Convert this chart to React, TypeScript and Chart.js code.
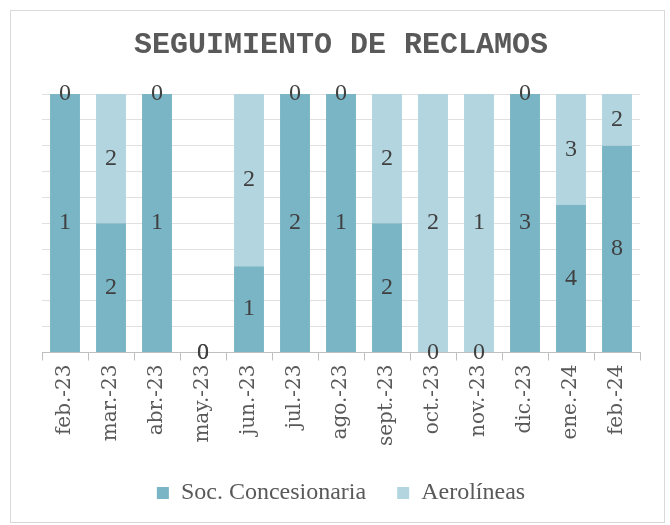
import React, { useEffect, useRef } from "react";
import { Chart, registerables } from "chart.js";

Chart.register(...registerables);

const categories = ["feb.-23", "mar.-23", "abr.-23", "may.-23", "jun.-23", "jul.-23", "ago.-23", "sept.-23", "oct.-23", "nov.-23", "dic.-23", "ene.-24", "feb.-24"];
const socConcesionaria = [1, 2, 1, 0, 1, 2, 1, 2, 0, 0, 3, 4, 8];
const aerolineas = [0, 2, 0, 0, 2, 0, 0, 2, 2, 1, 0, 3, 2];
const seriesNames = ["Soc. Concesionaria", "Aerolíneas"];
const title = "SEGUIMIENTO DE RECLAMOS";

const totals = categories.map((_, i) => socConcesionaria[i] + aerolineas[i]);
const pct = (arr: number[]) => arr.map((v, i) => (totals[i] ? (v / totals[i]) * 100 : 0));

const rawValues = [socConcesionaria, aerolineas];

const frame = {
  id: "frame",
  beforeDraw(chart: any) {
    const ctx = chart.ctx;
    ctx.save();
    ctx.fillStyle = "#ffffff";
    ctx.fillRect(0, 0, chart.width, chart.height);
    ctx.strokeStyle = "#d9d9d9";
    ctx.lineWidth = 1;
    ctx.strokeRect(10.5, 10.5, 654, 512);
    ctx.restore();
  },
};

const valueLabels = {
  id: "valueLabels",
  afterDatasetsDraw(chart: any) {
    const ctx = chart.ctx;
    ctx.save();
    ctx.font = "24px 'Liberation Serif', serif";
    ctx.fillStyle = "#404040";
    ctx.textAlign = "center";
    ctx.textBaseline = "middle";
    chart.data.datasets.forEach((_: any, di: number) => {
      const meta = chart.getDatasetMeta(di);
      meta.data.forEach((el: any, j: number) => {
        const p = el.getProps(["x", "y", "base"], true);
        ctx.fillText(String(rawValues[di][j]), p.x, (p.y + p.base) / 2);
      });
    });
    ctx.restore();
  },
};

export default function App() {
  const ref = useRef<HTMLCanvasElement>(null);
  useEffect(() => {
    const chart = new Chart(ref.current!, {
      type: "bar",
      data: {
        labels: categories,
        datasets: [
          { label: seriesNames[0], data: pct(socConcesionaria), backgroundColor: "#7AB5C6", categoryPercentage: 1, barPercentage: 0.65 },
          { label: seriesNames[1], data: pct(aerolineas), backgroundColor: "#B2D5E0", categoryPercentage: 1, barPercentage: 0.65 },
        ],
      },
      options: {
        responsive: false,
        animation: false,
        layout: { padding: { left: 42, right: 30, top: 20, bottom: 10 } },
        scales: {
          x: {
            stacked: true,
            grid: { display: true, drawOnChartArea: false, drawTicks: true, tickLength: 8, color: "#bfbfbf", offset: true },
            border: { display: true, color: "#bfbfbf" },
            ticks: {
              minRotation: 90,
              maxRotation: 90,
              autoSkip: false,
              padding: 4,
              color: "#595959",
              font: { family: "'DejaVu Serif', serif", size: 20 },
            },
          },
          y: {
            stacked: true,
            min: 0,
            max: 100,
            ticks: { display: false, stepSize: 10 },
            grid: { color: "#e0e0e0", drawTicks: false, tickLength: 0 },
            border: { display: false },
          },
        },
        plugins: {
          title: {
            display: true,
            text: title,
            color: "#595959",
            font: { family: "'Liberation Mono', monospace", size: 30, weight: "bold" },
            padding: { top: 7, bottom: 31 },
          },
          legend: {
            position: "bottom",
            labels: {
              boxWidth: 12,
              boxHeight: 12,
              padding: 31,
              color: "#595959",
              font: { family: "'Liberation Serif', serif", size: 24 },
            },
          },
          tooltip: { enabled: false },
        },
      },
      plugins: [frame, valueLabels],
    });
    return () => chart.destroy();
  }, []);
  return (
    <div style={{ position: "absolute", left: 0, top: 0 }}>
      <canvas ref={ref} width={670} height={525} style={{ display: "block" }} />
    </div>
  );
}
